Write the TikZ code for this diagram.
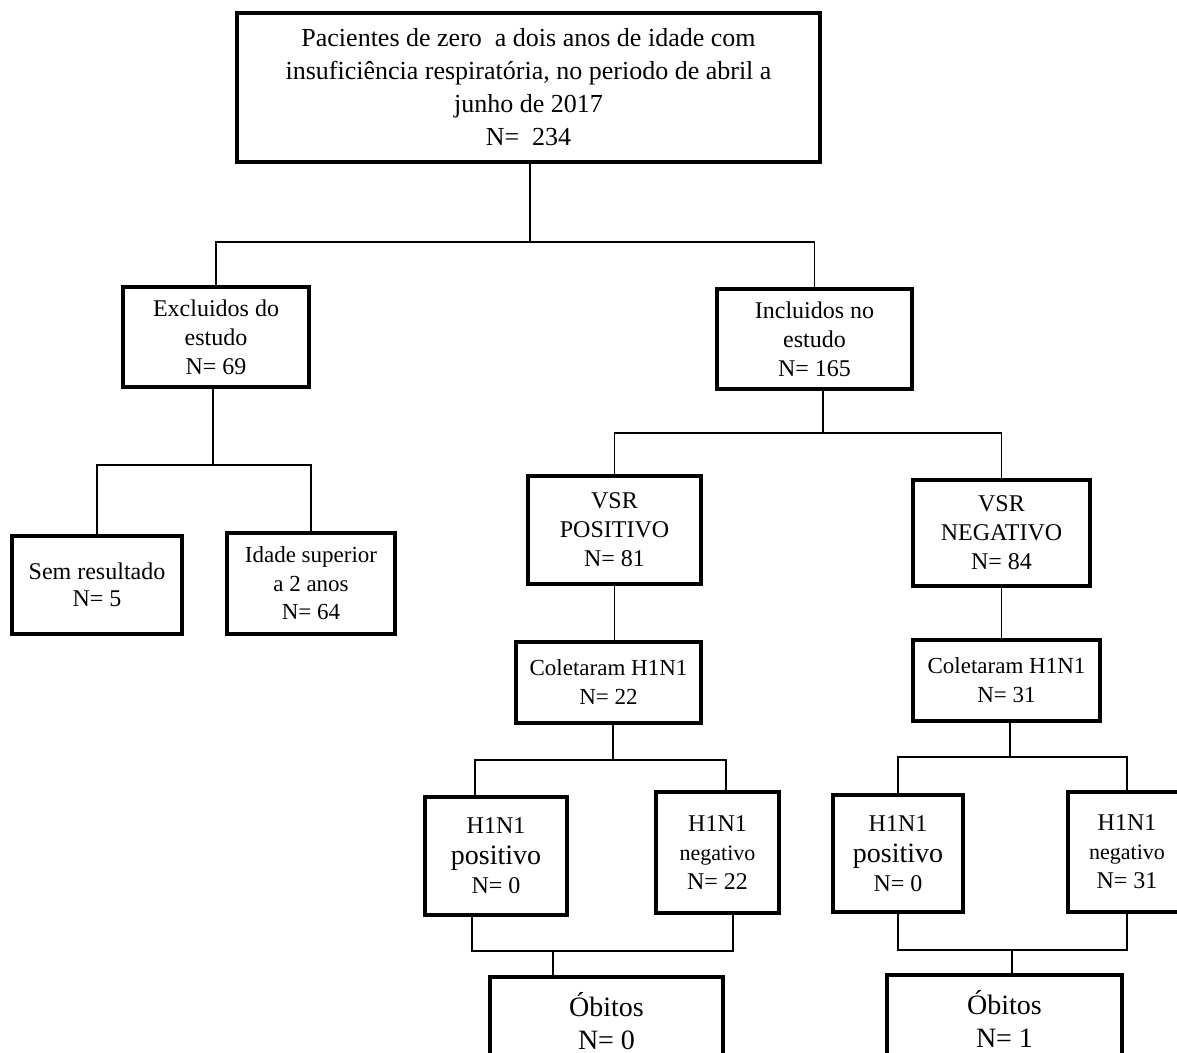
\documentclass[tikz,border=0pt]{standalone}
\usepackage{fontspec}
\setmainfont{Liberation Serif}

\tikzset{
    box/.style={draw, line width=1.6pt, align=center, inner sep=0pt,
        font=\fontsize{12}{14.5}\selectfont},
    link/.style={line width=0.7pt}
}

\begin{document}
\begin{tikzpicture}[x=0.5pt, y=-0.5pt]
\useasboundingbox (0,0) rectangle (1177,1053);
\clip (0,0) rectangle (1177,1053);

    \node[box, minimum width=291.5pt, minimum height=74.5pt, font=\fontsize{13}{16.5}\selectfont] (top) at (528.5,87.5)
        {Pacientes de zero\ \ a dois anos de idade com\\insuficiência respiratória, no periodo de abril a\\junho de 2017\\N=\ \ 234};
    \node[box, minimum width=93pt, minimum height=50pt] (excl) at (216,337) {Excluidos do\\estudo\\N= 69};
    \node[box, minimum width=97.5pt, minimum height=50pt] (incl) at (814.5,339) {Incluidos no\\estudo\\N= 165};
    \node[box, minimum width=85pt, minimum height=49pt, font=\fontsize{12}{13.5}\selectfont] (sem) at (97,585) {Sem resultado\\N= 5};
    \node[box, minimum width=84pt, minimum height=50.5pt, font=\fontsize{11.5}{14.25}\selectfont] (idade) at (311,583.5) {Idade superior\\a 2 anos\\N= 64};
    \node[box, minimum width=86.5pt, minimum height=54pt] (vpos) at (614.5,530) {VSR\\POSITIVO\\N= 81};
    \node[box, minimum width=88.5pt, minimum height=53pt] (vneg) at (1001.5,533) {VSR\\NEGATIVO\\N= 84};
    \node[box, minimum width=92.5pt, minimum height=40.5pt, font=\fontsize{11.5}{14.5}\selectfont] (colA) at (608.5,682.5) {Coletaram H1N1\\N= 22};
    \node[box, minimum width=93.5pt, minimum height=40.5pt, font=\fontsize{11.5}{14.5}\selectfont] (colB) at (1006.5,680.5) {Coletaram H1N1\\N= 31};
    \node[box, minimum width=71pt, minimum height=59pt] (hposA) at (496,856)
        {H1N1\\[1pt]{\fontsize{14}{16}\selectfont positivo}\\N= 0};
    \node[box, minimum width=61.5pt, minimum height=60.5pt] (hnegA) at (717.5,852.5)
        {H1N1\\{\fontsize{11}{13}\selectfont negativo}\\N= 22};
    \node[box, minimum width=65pt, minimum height=58.5pt] (hposB) at (898,853.5)
        {H1N1\\[1pt]{\fontsize{14}{16}\selectfont positivo}\\N= 0};
    \node[box, minimum width=59pt, minimum height=60pt] (hnegB) at (1127,852)
        {H1N1\\{\fontsize{11}{13}\selectfont negativo}\\N= 31};
    \node[box, minimum width=116.5pt, minimum height=44pt, font=\fontsize{14}{16.5}\selectfont] (obA) at (606.5,1021) {Óbitos\\N= 0};
    \node[box, minimum width=117.5pt, minimum height=44pt, font=\fontsize{14}{16.5}\selectfont] (obB) at (1004.5,1019) {Óbitos\\N= 1};

    % junctions
    \coordinate (j1) at (530,242);
    \coordinate (j2) at (213,465);
    \coordinate (j3) at (823,433);
    \coordinate (j4) at (613,760);
    \coordinate (j5) at (553,951);
    \coordinate (j6) at (1010,757);
    \coordinate (j7) at (1012,950);

    \draw[link] (top.south -| j1) -- (j1);
    \draw[link] (excl.north) |- (j1) -| (incl.north);
    \draw[link] (excl.south -| j2) -- (j2);
    \draw[link] (sem.north) |- (j2) -| (idade.north);
    \draw[link] (incl.south -| j3) -- (j3);
    \draw[link] (vpos.north) |- (j3) -| (vneg.north);
    \draw[link] (vpos.south) -- (vpos.south |- colA.north);
    \draw[link] (vneg.south) -- (vneg.south |- colB.north);
    \draw[link] (colA.south -| j4) -- (j4);
    \draw[link] ([xshift=-10.5pt]hposA.north) |- (j4) -| ([xshift=4.25pt]hnegA.north);
    \draw[link] (colB.south -| j6) -- (j6);
    \draw[link] (hposB.north) |- (j6) -| (hnegB.north);
    \draw[link] ([xshift=-12pt]hposA.south) |- (j5) -| ([xshift=7.75pt]hnegA.south);
    \draw[link] (j5) -- (j5 |- obA.north);
    \draw[link] (hposB.south) |- (j7) -| (hnegB.south);
    \draw[link] (j7) -- (j7 |- obB.north);
\end{tikzpicture}
\end{document}
